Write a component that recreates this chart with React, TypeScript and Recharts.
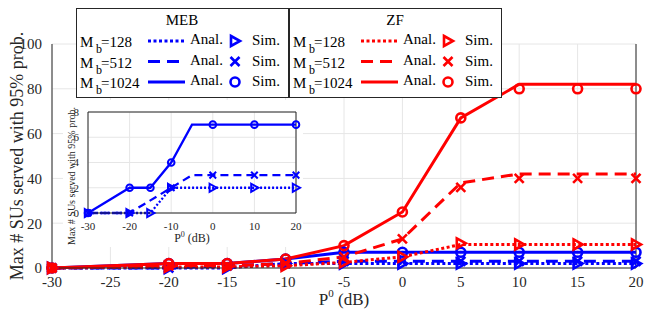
import { LineChart, Line, XAxis, YAxis, CartesianGrid, ReferenceLine, Legend, Label } from 'recharts'

// transmit power P0 (dB)
const pdB = [-30, -20, -15, -10, -5, 0, 5, 10, 15, 20]
const xTicks = [-30, -25, -20, -15, -10, -5, 0, 5, 10, 15, 20]
const yTicks = [0, 20, 40, 60, 80, 100]

// MEB
const mebAnal128 = [0, 0, 0, 2, 2, 2, 2, 2, 2, 2]
const mebSim128 = [0, 0, 0, 2, 2, 2, 2, 2, 2, 2]
const mebAnal512 = [0, 0, 1, 2, 3, 3, 3, 3, 3, 3]
const mebSim512 = [0, 0, 1, 2, 3, 3, 3, 3, 3, 3]
const mebAnal1024 = [0, 2, 2, 4, 7, 7, 7, 7, 7, 7]
const mebSim1024 = [0, 2, 2, 4, 7, 7, 7, 7, 7, 7]

// ZF
const zfAnal128 = [0, 0.5, 0.5, 1, 2.5, 5, 10.5, 10.5, 10.5, 10.5]
const zfSim128 = [0, 0.5, 0.5, 1, 2.5, 5, 11, 10.5, 10.5, 10.5]
const zfAnal512 = [0, 1, 1, 2, 5, 13, 38, 42, 42, 42]
const zfSim512 = [0, 1, 1, 2, 5, 13, 36, 40, 40, 40]
const zfAnal1024 = [0, 2, 2, 4, 10, 25, 67, 82, 82, 82]
const zfSim1024 = [0, 2, 2, 4, 10, 25, 67, 80, 80, 80]

// inset (MEB zoom)
const insetP = [-30, -20, -15, -10, -5, 0, 10, 20]
const insetTicksX = [-30, -20, -10, 0, 10, 20]
const insetTicksY = [0, 2, 4, 6, 8]
const insetAnal128 = [0, 0, 0, 2, 2, 2, 2, 2]
const insetSim128 = [0, 0, 0, 2, null, 2, 2, 2]
const insetAnal512 = [0, 0, 1, 2, 3, 3, 3, 3]
const insetSim512 = [0, 0, null, 2, null, 3, 3, 3]
const insetAnal1024 = [0, 2, 2, 4, 7, 7, 7, 7]
const insetSim1024 = [0, 2, 2, 4, null, 7, 7, 7]

const antennaLabels = ['128', '512', '1024']

const FONT = 'Liberation Serif, Times New Roman, serif'
const BLUE = '#0000ff'
const RED = '#ff0000'
const AXIS = '#262626'
const GRID = '#e6e6e6'

const dashes = ['3 2.5', '12 7', undefined]
const markerKinds = ['tri', 'x', 'circle']

const mainData = pdB.map((p, i) => ({
  p,
  mebAnal128: mebAnal128[i], mebSim128: mebSim128[i],
  mebAnal512: mebAnal512[i], mebSim512: mebSim512[i],
  mebAnal1024: mebAnal1024[i], mebSim1024: mebSim1024[i],
  zfAnal128: zfAnal128[i], zfSim128: zfSim128[i],
  zfAnal512: zfAnal512[i], zfSim512: zfSim512[i],
  zfAnal1024: zfAnal1024[i], zfSim1024: zfSim1024[i],
}))

const insetData = insetP.map((p, i) => ({
  p,
  a128: insetAnal128[i], s128: insetSim128[i],
  a512: insetAnal512[i], s512: insetSim512[i],
  a1024: insetAnal1024[i], s1024: insetSim1024[i],
}))

function Marker({ kind, cx, cy, color, s, sw }: any) {
  if (kind === 'tri') {
    return (
      <polygon
        points={`${cx - s * 0.8},${cy - s} ${cx + s},${cy} ${cx - s * 0.8},${cy + s}`}
        fill="none" stroke={color} strokeWidth={sw}
      />
    )
  }
  if (kind === 'x') {
    return (
      <g stroke={color} strokeWidth={sw}>
        <line x1={cx - s} y1={cy - s} x2={cx + s} y2={cy + s} />
        <line x1={cx - s} y1={cy + s} x2={cx + s} y2={cy - s} />
      </g>
    )
  }
  return <circle cx={cx} cy={cy} r={s} fill="none" stroke={color} strokeWidth={sw} />
}

const dotFn = (kind: string, color: string, s: number, sw: number) => (props: any) => {
  const { cx, cy, index, value } = props
  if (cx == null || cy == null || value == null) return <g key={`dot-${index}`} />
  return (
    <g key={`dot-${index}`}>
      <Marker kind={kind} cx={cx} cy={cy} color={color} s={s} sw={sw} />
    </g>
  )
}

const markerSize = (kind: string, big: boolean) =>
  kind === 'circle' ? (big ? 4.5 : 3.3) : kind === 'x' ? (big ? 4.5 : 3.3) : big ? 5 : 4

function LegendBox() {
  const groups = [
    { title: 'MEB', color: BLUE },
    { title: 'ZF', color: RED },
  ]
  return (
    <svg width={428} height={91} style={{ display: 'block' }}>
      {groups.map((g, gi) => {
        const ox = gi * 213
        return (
          <g key={g.title} fontFamily={FONT} fill="#000">
            <rect x={ox + 0.5} y={0.5} width={212} height={89} fill="#fff" stroke={AXIS} strokeWidth={1} />
            <text x={ox + 106} y={17} textAnchor="middle" fontSize={15}>{g.title}</text>
            {antennaLabels.map((m, i) => {
              const cy = 33 + i * 20.5
              return (
                <g key={m}>
                  <text x={ox + 4} y={cy + 6} fontSize={15}>
                    M
                    <tspan x={ox + 20} dy={6} fontSize={12}>b</tspan>
                    <tspan x={ox + 25} dy={-6}>={m}</tspan>
                  </text>
                  <line x1={ox + 72} x2={ox + 109} y1={cy} y2={cy} stroke={g.color} strokeWidth={3} strokeDasharray={dashes[i]} />
                  <text x={ox + 114} y={cy + 3} fontSize={15}>Anal.</text>
                  <Marker kind={markerKinds[i]} cx={ox + 159} cy={cy} color={g.color} s={markerSize(markerKinds[i], true)} sw={2.6} />
                  <text x={ox + 176} y={cy + 4} fontSize={15}>Sim.</text>
                </g>
              )
            })}
          </g>
        )
      })}
    </svg>
  )
}

const mainSeries = [
  { prefix: 'meb', color: BLUE },
  { prefix: 'zf', color: RED },
]

function MainChart() {
  return (
    <LineChart width={656} height={310} data={mainData} margin={{ top: 44, right: 20, bottom: 12, left: 0 }}>
      <CartesianGrid stroke={GRID} strokeWidth={1} />
      <XAxis
        dataKey="p" type="number" domain={[-30, 20]} ticks={xTicks} interval={0}
        tickLine={false} axisLine={{ stroke: AXIS }} height={30} tickMargin={2}
        tick={{ fill: AXIS, fontSize: 15, fontFamily: FONT }}
      >
        <Label
          content={({ viewBox }: any) => (
            <text x={viewBox.x + viewBox.width / 2} y={viewBox.y + 37} textAnchor="middle" fontSize={17} fontFamily={FONT} fill={AXIS}>
              P<tspan dy={-8} fontSize={11}>0</tspan><tspan dy={8}> (dB)</tspan>
            </text>
          )}
        />
      </XAxis>
      <YAxis
        type="number" domain={[0, 100]} ticks={yTicks} interval={0} width={52}
        tickLine={false} axisLine={{ stroke: AXIS }} tickMargin={4}
        tick={{ fill: AXIS, fontSize: 15, fontFamily: FONT }}
      >
        <Label
          content={() => (
            <text x={23} y={156} transform="rotate(-90 23 156)" textAnchor="middle" fontSize={18} fontFamily={FONT} fill={AXIS}>
              Max # SUs served with 95% prob.
            </text>
          )}
        />
      </YAxis>
      <ReferenceLine x={20} stroke={AXIS} strokeWidth={1} />
      {mainSeries.flatMap((g) =>
        antennaLabels.flatMap((m, i) => [
          <Line
            key={`${g.prefix}Anal${m}`} dataKey={`${g.prefix}Anal${m}`} type="linear"
            stroke={g.color} strokeWidth={3} strokeDasharray={dashes[i]} dot={false}
            activeDot={false} isAnimationActive={false}
          />,
          <Line
            key={`${g.prefix}Sim${m}`} dataKey={`${g.prefix}Sim${m}`} type="linear"
            stroke="none" dot={dotFn(markerKinds[i], g.color, markerSize(markerKinds[i], true), 2.6)}
            activeDot={false} isAnimationActive={false}
          />,
        ])
      )}
      <Legend
        layout="horizontal" verticalAlign="middle" align="center"
        wrapperStyle={{ top: 8, left: 76, width: 428, height: 91 }}
        content={() => <LegendBox />}
      />
    </LineChart>
  )
}

function InsetChart() {
  return (
    <div style={{ position: 'absolute', left: 63, top: 100, width: 240, height: 147, background: '#fff' }}>
      <LineChart width={240} height={147} data={insetData} margin={{ top: 12, right: 7, bottom: 0, left: 0 }}>
        <CartesianGrid stroke={GRID} strokeWidth={1} />
        <XAxis
          dataKey="p" type="number" domain={[-30, 20]} ticks={insetTicksX} interval={0}
          tickLine={false} axisLine={{ stroke: AXIS }} height={34} tickMargin={3}
          tick={{ fill: AXIS, fontSize: 11, fontFamily: FONT }}
        >
          <Label
            content={({ viewBox }: any) => (
              <text x={viewBox.x + viewBox.width / 2} y={viewBox.y + 29} textAnchor="middle" fontSize={12} fontFamily={FONT} fill={AXIS}>
                P<tspan dy={-5} fontSize={8}>0</tspan><tspan dy={5}> (dB)</tspan>
              </text>
            )}
          />
        </XAxis>
        <YAxis
          type="number" domain={[0, 8]} ticks={insetTicksY} interval={0} width={25}
          tickLine={false} axisLine={{ stroke: AXIS }} tickMargin={3}
          tick={{ fill: AXIS, fontSize: 11, fontFamily: FONT }}
        >
          <Label
            content={() => (
              <text x={12} y={76} transform="rotate(-90 12 76)" textAnchor="middle" fontSize={10} fontFamily={FONT} fill={AXIS}>
                Max # SUs served with 95% prob.
              </text>
            )}
          />
        </YAxis>
        <ReferenceLine x={20} stroke={AXIS} strokeWidth={1} />
        <ReferenceLine y={8} stroke={AXIS} strokeWidth={1} />
        {antennaLabels.flatMap((m, i) => [
          <Line
            key={`a${m}`} dataKey={`a${m}`} type="linear" stroke={BLUE} strokeWidth={2.3}
            strokeDasharray={i === 0 ? '2 2' : i === 1 ? '8 5' : undefined} dot={false}
            activeDot={false} isAnimationActive={false}
          />,
          <Line
            key={`s${m}`} dataKey={`s${m}`} type="linear" stroke="none"
            dot={dotFn(markerKinds[i], BLUE, markerSize(markerKinds[i], false), 2)}
            activeDot={false} isAnimationActive={false}
          />,
        ])}
      </LineChart>
    </div>
  )
}

export default function App() {
  return (
    <div style={{ position: 'absolute', left: 0, top: 0, width: 656, height: 310, background: '#fff' }}>
      <MainChart />
      <InsetChart />
    </div>
  )
}
